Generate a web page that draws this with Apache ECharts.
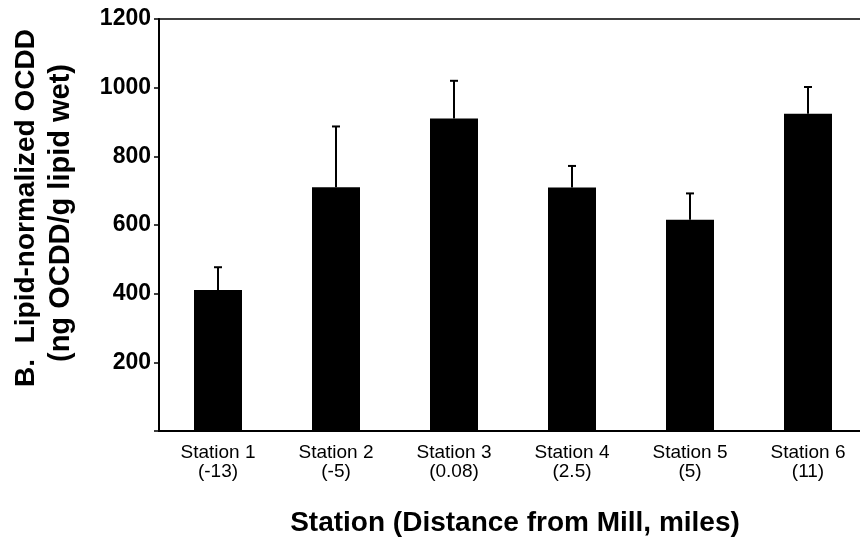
<!DOCTYPE html>
<html>
<head>
<meta charset="utf-8">
<script src="https://cdn.jsdelivr.net/npm/echarts@6/dist/echarts.min.js"></script>
<style>
html,body{margin:0;padding:0;background:#fff;}
#chart{width:860px;height:541px;}
</style>
</head>
<body>
<div id="chart"></div>
<script>
const categories = ['Station 1\n(-13)', 'Station 2\n(-5)', 'Station 3\n(0.08)', 'Station 4\n(2.5)', 'Station 5\n(5)', 'Station 6\n(11)'];
const means = [411, 710, 910, 709, 615, 924];
const errors = [66, 177, 110, 63, 77, 78];
const yTicks = [0, 200, 400, 600, 800, 1000, 1200];

const chart = echarts.init(document.getElementById('chart'));
const FONT = '"Liberation Sans", Arial, sans-serif';

chart.setOption({
  animation: false,
  backgroundColor: '#fff',
  grid: {
    left: 159, top: 19, width: 708, height: 412,
    outerBoundsMode: 'none',
    containLabel: false,
    show: true, borderColor: '#000', borderWidth: 1.5, backgroundColor: 'transparent'
  },
  xAxis: {
    type: 'category',
    data: categories,
    axisLine: { show: true, lineStyle: { color: '#000', width: 2 } },
    axisTick: { show: false },
    axisLabel: {
      color: '#000', fontFamily: FONT, fontSize: 19, lineHeight: 19, margin: 12, interval: 0
    }
  },
  yAxis: {
    type: 'value',
    min: yTicks[0], max: yTicks[yTicks.length - 1], interval: 200,
    splitLine: { show: false },
    axisLine: { show: true, lineStyle: { color: '#000', width: 2 } },
    axisTick: { show: true, inside: false, length: 5, lineStyle: { color: '#000', width: 1.5 } },
    axisLabel: {
      color: '#000', fontFamily: FONT, fontSize: 23, fontWeight: 'bold', margin: 8,
      formatter: v => (v === 0 ? '' : String(v))
    }
  },
  series: [
    {
      type: 'bar',
      data: means,
      barWidth: 48,
      itemStyle: { color: '#000' },
      z: 2
    },
    {
      type: 'custom',
      z: 3,
      data: means.map((m, i) => [i, m, m + errors[i]]),
      renderItem: function (params, api) {
        const base = api.coord([api.value(0), api.value(1)]);
        const top = api.coord([api.value(0), api.value(2)]);
        const half = 4;
        return {
          type: 'group',
          children: [
            { type: 'line', shape: { x1: base[0], y1: base[1], x2: top[0], y2: top[1] }, style: { stroke: '#000', lineWidth: 2 } },
            { type: 'line', shape: { x1: top[0] - half, y1: top[1], x2: top[0] + half, y2: top[1] }, style: { stroke: '#000', lineWidth: 2 } }
          ]
        };
      }
    }
  ],
  graphic: [
    {
      type: 'text', x: 26, y: 208, rotation: Math.PI / 2,
      style: { text: 'B.  Lipid-normalized OCDD', fill: '#000', font: 'bold 28px ' + FONT, textAlign: 'center', textVerticalAlign: 'middle' }
    },
    {
      type: 'text', x: 61, y: 213, rotation: Math.PI / 2,
      style: { text: '(ng OCDD/g lipid wet)', fill: '#000', font: 'bold 29px ' + FONT, textAlign: 'center', textVerticalAlign: 'middle' }
    },
    {
      type: 'text', x: 515, y: 523,
      style: { text: 'Station (Distance from Mill, miles)', fill: '#000', font: 'bold 28px ' + FONT, textAlign: 'center', textVerticalAlign: 'middle' }
    }
  ]
});
</script>
</body>
</html>
